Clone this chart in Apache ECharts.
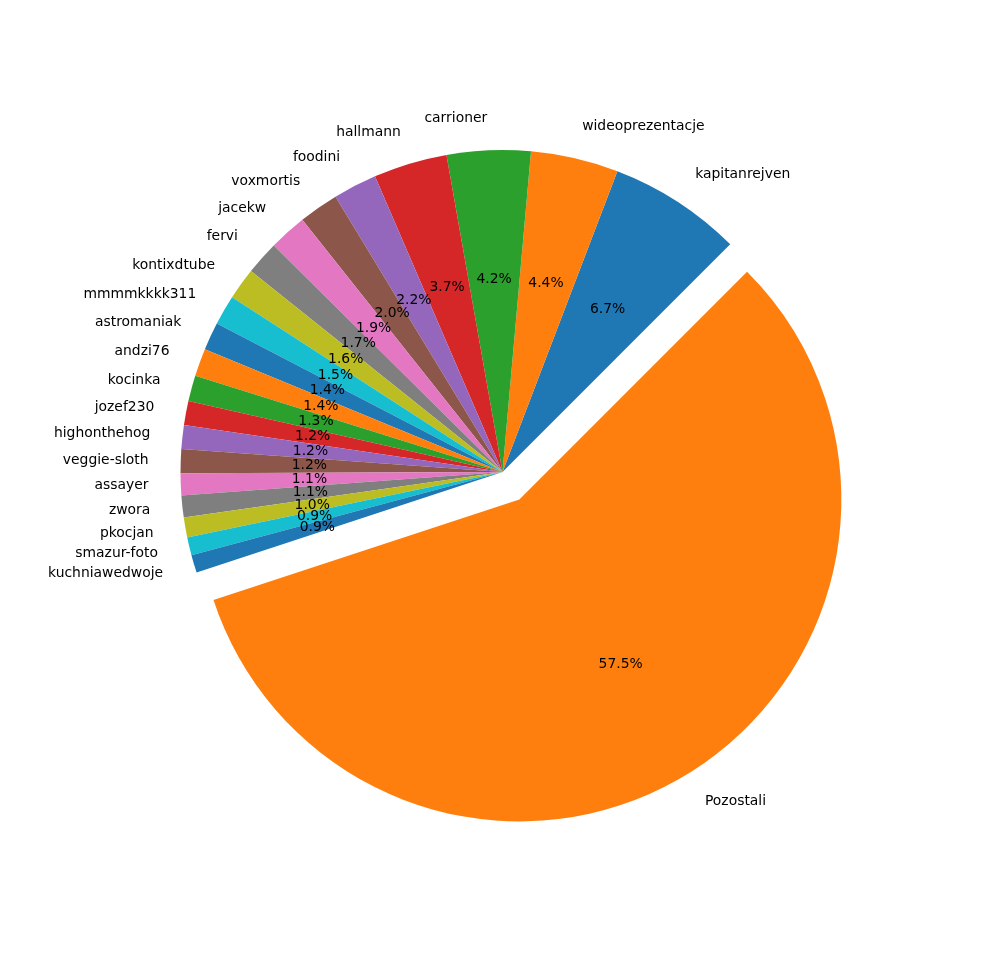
<!DOCTYPE html>
<html>
<head>
<meta charset="utf-8">
<script src="https://cdn.jsdelivr.net/npm/echarts@6/dist/echarts.min.js"></script>
<style>html,body{margin:0;padding:0;background:#fff;}#c{width:1000px;height:966px;}</style>
</head>
<body>
<div id="c"></div>
<script>
const categories = ['kapitanrejven','wideoprezentacje','carrioner','hallmann','foodini','voxmortis','jacekw','fervi','kontixdtube','mmmmkkkk311','astromaniak','andzi76','kocinka','jozef230','highonthehog','veggie-sloth','assayer','zwora','pkocjan','smazur-foto','kuchniawedwoje','Pozostali'];
const shares = [6.7,4.4,4.2,3.7,2.2,2.0,1.9,1.7,1.6,1.5,1.4,1.4,1.3,1.2,1.2,1.2,1.1,1.1,1.0,0.9,0.9,57.5];
const colors = ['#1f77b4','#ff7f0e','#2ca02c','#d62728','#9467bd','#8c564b','#e377c2','#7f7f7f','#bcbd22','#17becf'];
const exploded = 'Pozostali';

const R = 322;
const CX = 502.5, CY = 472;
const OFFSET = 0.1 * R;
const FONT = 'DejaVu Sans';

function makeData(transparent) {
  return categories.map((name, i) => ({
    name: name,
    value: shares[i],
    selected: name === exploded,
    itemStyle: transparent ? { color: 'rgba(0,0,0,0)' } : { color: colors[i % colors.length] }
  }));
}

const chart = echarts.init(document.getElementById('c'), null, { renderer: 'canvas' });
chart.setOption({
  backgroundColor: '#ffffff',
  animation: false,
  series: [
    {
      type: 'pie',
      center: [CX, CY],
      radius: [0, R],
      startAngle: 45,
      clockwise: false,
      selectedMode: 'multiple',
      selectedOffset: OFFSET,
      avoidLabelOverlap: false,
      padAngle: 0,
      minAngle: 0,
      silent: true,
      itemStyle: { borderWidth: 0 },
      label: {
        show: true,
        position: 'outside',
        alignTo: 'none',
        distanceToLabelLine: 0,
        formatter: p => p.name,
        fontFamily: FONT,
        fontSize: 13.9,
        color: '#000'
      },
      labelLine: { show: false, length: OFFSET, length2: 0 },
      labelLayout: { hideOverlap: false },
      emphasis: { disabled: true },
      select: { itemStyle: { borderWidth: 0 } },
      data: makeData(false)
    },
    {
      type: 'pie',
      center: [CX, CY],
      radius: [0, 1.2 * R - 6],
      startAngle: 45,
      clockwise: false,
      selectedMode: 'multiple',
      selectedOffset: OFFSET,
      avoidLabelOverlap: false,
      silent: true,
      z: 5,
      itemStyle: { borderWidth: 0, color: 'rgba(0,0,0,0)' },
      label: {
        show: true,
        position: 'inside',
        formatter: p => p.value.toFixed(1) + '%',
        fontFamily: FONT,
        fontSize: 13.9,
        color: '#000'
      },
      labelLine: { show: false },
      labelLayout: { hideOverlap: false },
      emphasis: { disabled: true },
      data: makeData(true)
    }
  ]
});
</script>
</body>
</html>
